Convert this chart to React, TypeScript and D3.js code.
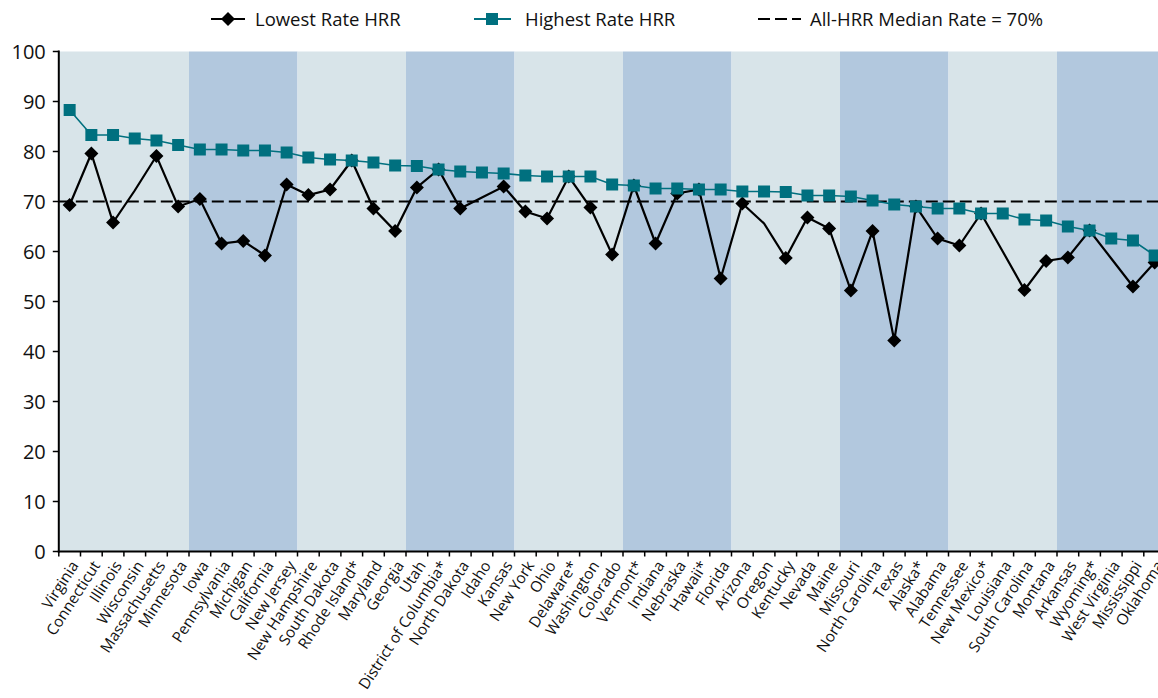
import React from "react";
import * as d3 from "d3";

const states = [
  "Virginia", "Connecticut", "Illinois", "Wisconsin", "Massachusetts", "Minnesota",
  "Iowa", "Pennsylvania", "Michigan", "California", "New Jersey",
  "New Hampshire", "South Dakota", "Rhode Island*", "Maryland", "Georgia",
  "Utah", "District of Columbia*", "North Dakota", "Idaho", "Kansas",
  "New York", "Ohio", "Delaware*", "Washington", "Colorado",
  "Vermont*", "Indiana", "Nebraska", "Hawaii*", "Florida",
  "Arizona", "Oregon", "Kentucky", "Nevada", "Maine",
  "Missouri", "North Carolina", "Texas", "Alaska*", "Alabama",
  "Tennessee", "New Mexico*", "Louisiana", "South Carolina", "Montana",
  "Arkansas", "Wyoming*", "West Virginia", "Mississippi", "Oklahoma",
];

const highestRate = [
  88.3, 83.3, 83.3, 82.6, 82.2, 81.3,
  80.4, 80.4, 80.2, 80.2, 79.8,
  78.8, 78.4, 78.2, 77.8, 77.2,
  77.1, 76.4, 76.0, 75.8, 75.6,
  75.2, 75.0, 75.0, 75.0, 73.4,
  73.2, 72.6, 72.6, 72.4, 72.4,
  72.0, 72.0, 71.9, 71.2, 71.2,
  71.0, 70.2, 69.4, 69.0, 68.6,
  68.6, 67.6, 67.6, 66.4, 66.2,
  65.0, 64.2, 62.6, 62.2, 59.2,
];

const lowestRate = [
  69.3, 79.6, 65.8, 72.2, 79.1, 69.0,
  70.5, 61.6, 62.1, 59.2, 73.4,
  71.3, 72.4, 78.2, 68.6, 64.1,
  72.8, 76.4, 68.6, 70.8, 73.0,
  68.0, 66.6, 75.0, 68.8, 59.4,
  73.2, 61.6, 71.6, 72.4, 54.6,
  69.6, 65.6, 58.7, 66.8, 64.6,
  52.2, 64.1, 42.2, 69.0, 62.6,
  61.2, 67.6, 60.0, 52.3, 58.1,
  58.8, 64.2, 58.6, 53.0, 57.8,
];

// states whose lowest-rate point has no marker drawn in the source
const lowestNoMarker = ["Wisconsin", "Idaho", "Oregon", "Louisiana", "West Virginia"];

const medianRate = 70;
const yTicks = [0, 10, 20, 30, 40, 50, 60, 70, 80, 90, 100];

// first state of each background band (alternating light / dark)
const bandStarts = [
  "Virginia", "Iowa", "New Hampshire", "Utah", "New York",
  "Vermont*", "Arizona", "Missouri", "Tennessee", "Arkansas",
];

const legendLabels = ["Lowest Rate HRR", "Highest Rate HRR", "All-HRR Median Rate = 70%"];

const W = 1158;
const H = 698;
const FONT = "'Open Sans', 'Noto Sans', sans-serif";
const TEAL = "#00707f";
const LIGHT = "#d8e4e9";
const DARK = "#b2c8de";

export default function App() {
  const x = d3.scaleBand<string>().domain(states).range([58.8, 1165.5]).padding(0);
  const y = d3.scaleLinear().domain([0, 100]).range([551.5, 51.5]);
  const cx = (s: string) => (x(s) as number) + x.bandwidth() / 2;

  const lineGen = d3
    .line<number>()
    .x((_, i) => cx(states[i]))
    .y((v) => y(v));

  const bands = bandStarts.map((s, i) => {
    const startIdx = states.indexOf(s);
    const endIdx = i + 1 < bandStarts.length ? states.indexOf(bandStarts[i + 1]) : states.length;
    const x0 = x(states[startIdx]) as number;
    const x1 = endIdx < states.length ? (x(states[endIdx]) as number) : x.range()[1];
    return { x0, x1, fill: i % 2 === 0 ? LIGHT : DARK };
  });

  const diamond = d3.symbol().type(d3.symbolDiamond2).size(125)();
  const xLeft = x.range()[0];
  const xRight = x.range()[1];

  return (
    <svg
      width={W}
      height={H}
      style={{ position: "absolute", left: 0, top: 0, background: "#fff" }}
      fontFamily={FONT}
    >
      {/* background bands */}
      {bands.map((b, i) => (
        <rect key={i} x={b.x0} y={y(100)} width={b.x1 - b.x0} height={y(0) - y(100)} fill={b.fill} />
      ))}

      {/* median line */}
      <line
        x1={xLeft}
        x2={xRight}
        y1={y(medianRate)}
        y2={y(medianRate)}
        stroke="#000"
        strokeWidth={2}
        strokeDasharray="12 5"
      />

      {/* lowest series */}
      <path d={lineGen(lowestRate) || ""} fill="none" stroke="#000" strokeWidth={2.2} />
      {lowestRate.map((v, i) =>
        lowestNoMarker.includes(states[i]) ? null : (
          <path key={i} d={diamond || ""} transform={`translate(${cx(states[i])},${y(v)})`} fill="#000" />
        )
      )}

      {/* highest series */}
      <path d={lineGen(highestRate) || ""} fill="none" stroke={TEAL} strokeWidth={1.6} />
      {highestRate.map((v, i) => (
        <rect key={i} x={cx(states[i]) - 6} y={y(v) - 6} width={12} height={12} fill={TEAL} />
      ))}

      {/* axes */}
      <line x1={xLeft} x2={xLeft} y1={y(100) - 1} y2={y(0) + 1} stroke="#000" strokeWidth={2} />
      <line x1={xLeft - 1} x2={W + 10} y1={y(0)} y2={y(0)} stroke="#000" strokeWidth={2} />
      {yTicks.map((t) => (
        <g key={t}>
          <line x1={xLeft - 6} x2={xLeft} y1={y(t)} y2={y(t)} stroke="#000" strokeWidth={1.5} />
          <text x={xLeft - 13} y={y(t)} dy="0.36em" textAnchor="end" fontSize={20} fill="#111">
            {t}
          </text>
        </g>
      ))}
      {states.map((s, i) => (
        <line
          key={"t" + i}
          x1={x(s) as number}
          x2={x(s) as number}
          y1={y(0)}
          y2={y(0) + 5}
          stroke="#000"
          strokeWidth={1.5}
        />
      ))}
      {states.map((s) => (
        <text
          key={"l" + s}
          transform={`translate(${cx(s) + 5},${y(0) + 11}) rotate(-57)`}
          textAnchor="end"
          dy="0.35em"
          fontSize={15.3}
          fill="#111"
        >
          {s}
        </text>
      ))}

      {/* legend */}
      <g>
        <line x1={211} x2={245} y1={19} y2={19} stroke="#000" strokeWidth={2.2} />
        <path d={diamond || ""} transform="translate(228,19)" fill="#000" />
        <text x={255} y={19} dy="0.36em" fontSize={18.5} fill="#111">
          {legendLabels[0]}
        </text>

        <line x1={474} x2={511} y1={19} y2={19} stroke={TEAL} strokeWidth={2} />
        <rect x={486} y={13} width={12} height={12} fill={TEAL} />
        <text x={525} y={19} dy="0.36em" fontSize={18.5} fill="#111">
          {legendLabels[1]}
        </text>

        <line x1={758} x2={801} y1={19} y2={19} stroke="#000" strokeWidth={2} strokeDasharray="12 5" />
        <text x={810} y={19} dy="0.36em" fontSize={18.5} fill="#111">
          {legendLabels[2]}
        </text>
      </g>
    </svg>
  );
}
